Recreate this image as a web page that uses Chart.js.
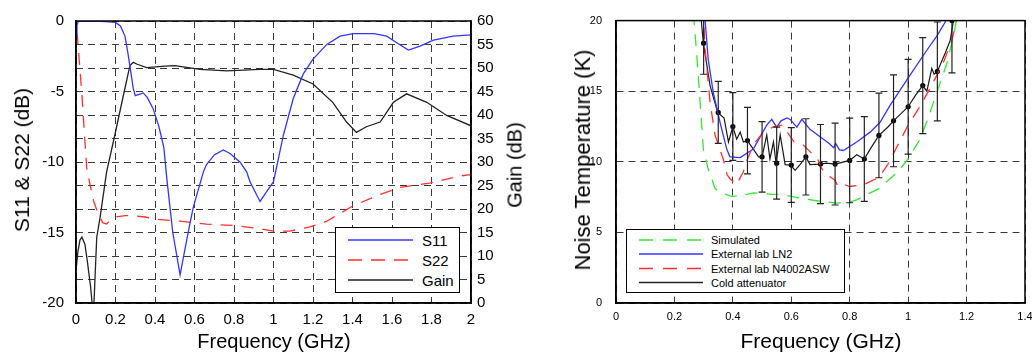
<!DOCTYPE html>
<html>
<head>
<meta charset="utf-8">
<script src="https://cdn.jsdelivr.net/npm/chart.js@4.4.1/dist/chart.umd.min.js"></script>
<style>
  body { margin:0; width:1032px; height:354px; background:#fff; position:relative; overflow:hidden; font-family:'Liberation Sans', Arial, sans-serif; }
  canvas { position:absolute; top:0; }
  #leftChart { left:0; }
  #rightChart { left:540px; }
  .title { position:absolute; white-space:nowrap; color:#000; transform:translate(-50%,-50%); }
  .rot { transform:translate(-50%,-50%) rotate(-90deg); }
  .legend { position:absolute; background:#fff; border:1.5px solid #000; box-sizing:border-box; }
  .legend svg { position:absolute; left:0; top:0; }
  .legend span { position:absolute; white-space:nowrap; transform:translateY(-50%); color:#000; }
</style>
</head>
<body>
<canvas id="leftChart" width="540" height="354"></canvas>
<canvas id="rightChart" width="492" height="354"></canvas>

<div class="title rot" style="left:22px;top:160px;font-size:21px;">S11 &amp; S22 (dB)</div>
<div class="title rot" style="left:515px;top:165px;font-size:20px;">Gain (dB)</div>
<div class="title" style="left:274px;top:341px;font-size:20px;">Frequency (GHz)</div>
<div class="title rot" style="left:583px;top:160px;font-size:22px;">Noise Temperature (K)</div>
<div class="title" style="left:821px;top:341px;font-size:21px;">Frequency (GHz)</div>

<div id="leftLegend" class="legend" style="left:335px;top:227px;width:125px;height:66px;"></div>
<div id="rightLegend" class="legend" style="left:626px;top:229px;width:219px;height:64px;"></div>

<script>
// --- left plot: S11 / S22 (left axis, dB) and Gain (right axis, dB)
const s11Freq = [0, 0.005, 0.012, 0.05, 0.1, 0.15, 0.2, 0.225, 0.248, 0.262, 0.273, 0.29, 0.3, 0.32, 0.34, 0.36, 0.39, 0.42, 0.445, 0.46, 0.49, 0.527, 0.55, 0.575, 0.594, 0.645, 0.66, 0.7, 0.746, 0.78, 0.83, 0.864, 0.881, 0.932, 0.96, 0.99, 1.0, 1.05, 1.1, 1.15, 1.2, 1.27, 1.337, 1.404, 1.51, 1.573, 1.624, 1.683, 1.742, 1.81, 1.91, 2.0];
const s11Db = [-1.2, -0.3, 0, -0.02, 0, -0.05, -0.1, -0.35, -1.07, -2.2, -3.2, -4.8, -5.3, -5.2, -5.1, -5.4, -6.2, -7.5, -9.0, -11.2, -15.0, -18.0, -16.3, -14.5, -13.2, -10.7, -10.2, -9.5, -9.15, -9.4, -10.0, -10.7, -11.4, -12.8, -12.2, -11.6, -11.4, -8.1, -5.5, -3.77, -2.7, -1.66, -1.07, -0.89, -0.89, -1.07, -1.54, -2.06, -1.78, -1.36, -1.07, -0.98];

const s22Freq = [0, 0.007, 0.029, 0.054, 0.071, 0.09, 0.113, 0.135, 0.155, 0.175, 0.197, 0.25, 0.29, 0.35, 0.408, 0.527, 0.66, 0.797, 0.915, 1.0, 1.083, 1.185, 1.27, 1.404, 1.54, 1.64, 1.79, 1.94, 2.0];
const s22Db = [-0.8, -1.07, -5.05, -10.4, -11.6, -12.8, -13.7, -14.3, -14.4, -14.1, -13.9, -13.8, -13.8, -13.9, -14.06, -14.2, -14.4, -14.5, -14.7, -14.9, -14.9, -14.6, -14.2, -13.1, -12.3, -11.8, -11.5, -11.0, -10.9];

const gainFreq = [0, 0.01, 0.02, 0.03, 0.045, 0.057, 0.074, 0.088, 0.097, 0.105, 0.122, 0.155, 0.197, 0.24, 0.273, 0.29, 0.31, 0.358, 0.45, 0.5, 0.628, 0.763, 0.93, 1.0, 1.1, 1.2, 1.3, 1.37, 1.42, 1.47, 1.54, 1.607, 1.674, 1.776, 1.877, 2.0];
const gainDb = [6.9, 11.0, 13.4, 14.0, 12.5, 9.0, 3.4, -3, 6, 14.0, 18.2, 27.9, 35.8, 44.2, 50.5, 51.2, 50.8, 50.1, 50.4, 50.5, 49.7, 49.4, 49.7, 49.7, 48.5, 46.6, 42.7, 38.5, 36.3, 37.5, 38.5, 42.7, 44.5, 42.7, 39.9, 37.7];

// --- right plot: noise temperature (K)
const simFreq = [0.262, 0.267, 0.276, 0.288, 0.299, 0.314, 0.328, 0.339, 0.36, 0.396, 0.43, 0.47, 0.539, 0.562, 0.63, 0.699, 0.756, 0.8, 0.824, 0.87, 0.9, 0.938, 0.97, 0.996, 1.041, 1.07, 1.098, 1.133, 1.155, 1.165, 1.17];
const simK = [22, 20, 17.7, 14.2, 10.9, 9.6, 8.8, 8.1, 7.8, 7.55, 7.6, 7.8, 7.7, 7.7, 7.43, 7.2, 7.08, 7.15, 7.3, 7.8, 8.1, 8.8, 9.4, 10.1, 11.6, 13.2, 14.9, 17.0, 18.9, 20, 21];

const ln2Freq = [0.3, 0.305, 0.316, 0.333, 0.356, 0.379, 0.39, 0.425, 0.47, 0.516, 0.533, 0.55, 0.565, 0.585, 0.596, 0.619, 0.636, 0.664, 0.71, 0.73, 0.745, 0.752, 0.765, 0.778, 0.824, 0.87, 0.904, 0.938, 0.973, 1.018, 1.064, 1.098, 1.127, 1.14];
const ln2K = [21, 20, 17.2, 14.9, 12.8, 10.9, 10.35, 10.3, 10.9, 12.6, 13.0, 12.45, 12.9, 13.1, 13.0, 12.45, 13.0, 12.3, 11.6, 11.3, 11.0, 11.3, 10.85, 10.8, 11.4, 12.1, 12.8, 14.0, 15.1, 16.5, 17.9, 18.9, 19.9, 21];

const n4002Freq = [0.297, 0.305, 0.322, 0.339, 0.367, 0.38, 0.39, 0.413, 0.436, 0.45, 0.47, 0.5, 0.54, 0.57, 0.61, 0.64, 0.67, 0.69, 0.705, 0.72, 0.75, 0.76, 0.78, 0.8, 0.85, 0.9, 0.93, 0.96, 1.0, 1.04, 1.08, 1.12, 1.15, 1.165, 1.17];
const n4002K = [21, 18, 14.2, 11.9, 10.2, 9.1, 8.8, 8.4, 9.3, 10.2, 11.2, 12.0, 12.5, 12.6, 11.4, 11.2, 10.6, 10.2, 9.5, 9.1, 8.7, 8.25, 8.4, 8.25, 8.4, 8.9, 9.8, 11.0, 12.6, 13.9, 15.4, 17.0, 18.6, 20, 21];

const coldFreq = [0.289, 0.292, 0.299, 0.322, 0.348, 0.37, 0.385, 0.4, 0.413, 0.425, 0.436, 0.45, 0.47, 0.488, 0.5, 0.516, 0.527, 0.539, 0.548, 0.562, 0.579, 0.598, 0.613, 0.63, 0.65, 0.664, 0.7, 0.72, 0.75, 0.78, 0.8, 0.824, 0.85, 0.87, 0.9, 0.93, 0.95, 0.98, 1.0, 1.025, 1.05, 1.064, 1.081, 1.089, 1.1, 1.127, 1.144, 1.155, 1.16];
const coldK = [21, 20, 18.4, 15.4, 13.5, 13.1, 11.4, 12.5, 11.6, 12.1, 11.4, 11.5, 10.9, 10.35, 10.35, 11.9, 10.2, 11.4, 9.9, 11.9, 9.8, 9.77, 9.4, 9.8, 10.35, 9.8, 9.84, 9.9, 9.84, 10.0, 10.1, 10.5, 10.2, 10.9, 11.87, 12.45, 12.9, 13.5, 13.9, 14.7, 15.4, 15.0, 16.6, 16.2, 16.4, 17.7, 18.6, 20, 21];

const markFreq = [0.3, 0.35, 0.4, 0.45, 0.5, 0.55, 0.6, 0.65, 0.7, 0.75, 0.8, 0.85, 0.9, 0.95, 1.0, 1.05, 1.1, 1.15];
const markK = [18.4, 13.5, 12.5, 11.5, 10.35, 9.9, 9.77, 10.35, 9.84, 9.84, 10.1, 10.2, 11.87, 12.9, 13.9, 15.4, 16.4, 20.0];
const markErr = [2.2, 2.2, 2.4, 2.35, 2.5, 2.55, 2.65, 2.7, 2.8, 2.9, 3.0, 3.0, 3.0, 3.25, 3.35, 3.4, 3.5, 3.7];

const pts = (xs, ys) => xs.map((x, i) => ({ x, y: ys[i] }));

Chart.defaults.font.family = "'Liberation Sans', Arial, sans-serif";
Chart.defaults.color = '#000';

const gridColor = '#3a3a3a';
const gridDash = [7, 5];

const frame = {
  id: 'frame',
  afterDraw(chart) {
    const { ctx, chartArea: a } = chart;
    ctx.save();
    ctx.strokeStyle = '#000';
    ctx.lineWidth = 1.5;
    ctx.strokeRect(a.left, a.top, a.right - a.left, a.bottom - a.top);
    ctx.restore();
  }
};

const errorBars = {
  id: 'errorBars',
  afterDatasetsDraw(chart) {
    const { ctx, chartArea: a, scales: { x, y } } = chart;
    ctx.save();
    ctx.beginPath();
    ctx.rect(a.left, a.top, a.right - a.left, a.bottom - a.top);
    ctx.clip();
    ctx.strokeStyle = '#222';
    ctx.lineWidth = 1.2;
    markFreq.forEach((f, i) => {
      const px = x.getPixelForValue(f);
      const top = y.getPixelForValue(markK[i] + markErr[i]);
      const bot = y.getPixelForValue(markK[i] - markErr[i]);
      ctx.beginPath();
      ctx.moveTo(px, top); ctx.lineTo(px, bot);
      ctx.moveTo(px - 3.5, top); ctx.lineTo(px + 3.5, top);
      ctx.moveTo(px - 3.5, bot); ctx.lineTo(px + 3.5, bot);
      ctx.stroke();
    });
    ctx.restore();
  }
};

const fmt = v => String(+v.toFixed(1));

// left chart
new Chart(document.getElementById('leftChart'), {
  type: 'line',
  data: {
    datasets: [
      { label: 'S11', data: pts(s11Freq, s11Db), borderColor: '#3535ff', borderWidth: 1.3, yAxisID: 'y' },
      { label: 'S22', data: pts(s22Freq, s22Db), borderColor: '#ff3030', borderWidth: 1.3, borderDash: [12, 9], yAxisID: 'y' },
      { label: 'Gain', data: pts(gainFreq, gainDb), borderColor: '#222', borderWidth: 1.3, yAxisID: 'y1' }
    ]
  },
  options: {
    responsive: false,
    animation: false,
    layout: { padding: { top: 18, left: 0, right: 0, bottom: 0 } },
    elements: { point: { radius: 0 }, line: { tension: 0 } },
    plugins: { legend: { display: false }, tooltip: { enabled: false } },
    scales: {
      x: {
        type: 'linear', min: 0, max: 2,
        ticks: { stepSize: 0.2, padding: 8, font: { size: 15 }, color: '#000', callback: fmt, maxRotation: 0 },
        grid: { color: gridColor, drawTicks: false },
        border: { dash: gridDash, color: '#000', width: 1.5 },
        afterFit(s) { s.height = 51; }
      },
      y: {
        min: -20, max: 0,
        ticks: { stepSize: 5, padding: 12, font: { size: 15 }, color: '#000', callback: v => String(v) },
        grid: { display: false, drawTicks: false },
        border: { color: '#000', width: 1.5 },
        afterFit(s) { s.width = 76; }
      },
      y1: {
        position: 'right', min: 0, max: 60,
        ticks: { stepSize: 5, padding: 6, font: { size: 15 }, color: '#000' },
        grid: { color: gridColor, drawTicks: false },
        border: { dash: gridDash, color: '#000', width: 1.5 },
        afterFit(s) { s.width = 69; }
      }
    }
  },
  plugins: [frame]
});

// right chart
new Chart(document.getElementById('rightChart'), {
  type: 'line',
  data: {
    datasets: [
      { label: 'Simulated', data: pts(simFreq, simK), borderColor: '#33e833', borderWidth: 1.3, borderDash: [12, 9] },
      { label: 'External lab N4002ASW', data: pts(n4002Freq, n4002K), borderColor: '#ff3030', borderWidth: 1.3, borderDash: [12, 9] },
      { label: 'External lab LN2', data: pts(ln2Freq, ln2K), borderColor: '#3535ff', borderWidth: 1.3 },
      { label: 'Cold attenuator', data: pts(coldFreq, coldK), borderColor: '#1a1a1a', borderWidth: 1.2 },
      { label: 'points', data: pts(markFreq, markK), showLine: false, pointRadius: 2.6, pointBackgroundColor: '#000', pointBorderWidth: 0 }
    ]
  },
  options: {
    responsive: false,
    animation: false,
    layout: { padding: { top: 17, left: 0, right: 7, bottom: 0 } },
    elements: { point: { radius: 0 }, line: { tension: 0 } },
    plugins: { legend: { display: false }, tooltip: { enabled: false } },
    scales: {
      x: {
        type: 'linear', min: 0, max: 1.4,
        ticks: { stepSize: 0.2, padding: 7, font: { size: 11 }, color: '#000', callback: fmt, maxRotation: 0 },
        grid: { color: gridColor, drawTicks: false },
        border: { dash: gridDash, color: '#000', width: 1.5 },
        afterFit(s) { s.height = 51; s.paddingLeft = 0; s.paddingRight = 0; }
      },
      y: {
        min: 0, max: 20,
        ticks: { stepSize: 5, padding: 14, font: { size: 11 }, color: '#000' },
        grid: { color: gridColor, drawTicks: false },
        border: { dash: gridDash, color: '#000', width: 1.5 },
        afterFit(s) { s.width = 76; }
      }
    }
  },
  plugins: [errorBars, frame]
});

// legends (html)
function buildLegend(el, items, opt) {
  const w = el.clientWidth, h = el.clientHeight;
  let svg = `<svg width="${w}" height="${h}">`;
  items.forEach((it, i) => {
    const y = opt.rows[i];
    svg += `<line x1="${opt.x1}" y1="${y}" x2="${opt.x2}" y2="${y}" stroke="${it.color}" stroke-width="1.5"${it.dash ? ` stroke-dasharray="${it.dash}"` : ''}/>`;
  });
  svg += '</svg>';
  el.innerHTML = svg + items.map((it, i) =>
    `<span style="left:${opt.tx}px;top:${opt.rows[i]}px;font-size:${opt.size}px">${it.label}</span>`).join('');
}

buildLegend(document.getElementById('leftLegend'), [
  { label: 'S11', color: '#3535ff' },
  { label: 'S22', color: '#ff3030', dash: '14 9' },
  { label: 'Gain', color: '#222' }
], { x1: 12, x2: 77, tx: 86, rows: [12, 32, 52], size: 15 });

buildLegend(document.getElementById('rightLegend'), [
  { label: 'Simulated', color: '#33e833', dash: '14 10' },
  { label: 'External lab LN2', color: '#3535ff' },
  { label: 'External lab N4002ASW', color: '#ff3030', dash: '14 10' },
  { label: 'Cold attenuator', color: '#222' }
], { x1: 12, x2: 76, tx: 84, rows: [10, 24, 38.5, 52.5], size: 11 });
</script>
</body>
</html>
